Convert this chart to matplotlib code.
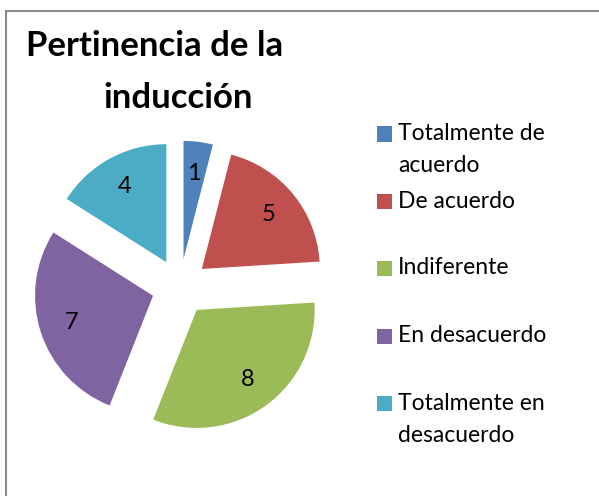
import matplotlib
matplotlib.use("Agg")
import matplotlib.pyplot as plt
from matplotlib.patches import Rectangle

title = "Pertinencia de la\ninducción"
categories = ["Totalmente de\nacuerdo", "De acuerdo", "Indiferente", "En desacuerdo", "Totalmente en\ndesacuerdo"]
values = [1, 5, 8, 7, 4]
colors = ["#4F81BD", "#C0504D", "#9BBB59", "#8064A2", "#4BACC6"]

W, H = 599, 496
fig = plt.figure(figsize=(W / 100, H / 100), dpi=100)
FONT = "Lato"

# outer chart frame (left and top edges visible)
fig.patches.append(Rectangle((6 / W, -0.1), 1.2, (H - 11) / H + 0.1, transform=fig.transFigure,
                             fill=False, edgecolor="#8c8c8c", linewidth=1.5))

# pie axes
R = 118.0
L = 1.5
cx, cy = 180.0, 287.0
side = 2 * L * R
ax = fig.add_axes([(cx - side / 2) / W, (H - cy - side / 2) / H, side / W, side / H])
total = sum(values)
ax.pie(values, colors=colors, startangle=90, counterclock=False,
       explode=[0.24] * len(values), radius=1.0,
       autopct=lambda p: f"{round(p * total / 100)}", pctdistance=0.73,
       textprops=dict(fontsize=17, family=FONT, color="black"),
       wedgeprops=dict(linewidth=0))
ax.set_xlim(-L, L)
ax.set_ylim(-L, L)
ax.set_aspect("equal")
ax.axis("off")

# title
fig.text(155 / W, 1 - 46 / H, "Pertinencia de la", ha="center", va="center",
         fontsize=25, fontweight="bold", family=FONT)
fig.text(178 / W, 1 - 98 / H, "inducción", ha="center", va="center",
         fontsize=25, fontweight="bold", family=FONT)

# legend (manual)
entry_y = [134, 201, 268, 336, 403]
for lab, col, y in zip(categories, colors, entry_y):
    fig.patches.append(Rectangle((377 / W, 1 - (y + 7.5) / H), 15 / W, 15 / H,
                                 transform=fig.transFigure, facecolor=col, edgecolor="none"))
    lines = lab.split("\n")
    for i, t in enumerate(lines):
        fig.text(398 / W, 1 - (y + i * 32) / H, t, ha="left", va="center",
                 fontsize=16.5, family=FONT)

fig.savefig("out.png", dpi=100, facecolor="white")
